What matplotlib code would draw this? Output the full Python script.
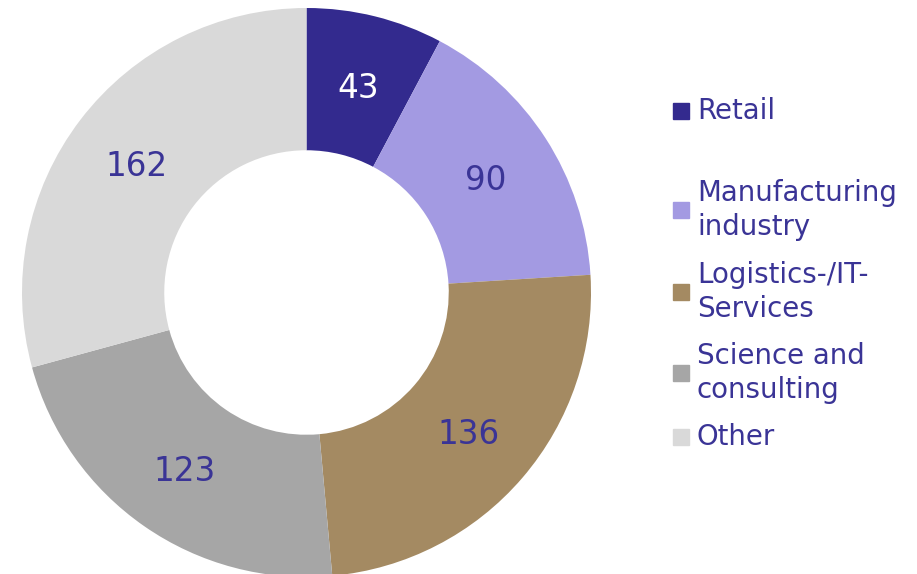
import matplotlib
matplotlib.use("Agg")
import matplotlib.pyplot as plt
from matplotlib.patches import Rectangle

plt.rcParams["font.family"] = ["DejaVu Sans"]

categories = ["Retail", "Manufacturing\nindustry", "Logistics-/IT-\nServices", "Science and\nconsulting", "Other"]
values = [43, 90, 136, 123, 162]
colors = ["#332A8E", "#A39AE2", "#A48A62", "#A6A6A6", "#D9D9D9"]
label_colors = ["white", "#3A3496", "#3A3496", "#3A3496", "#3A3496"]
text_color = "#3A3496"

W, H = 917, 574
fig = plt.figure(figsize=(W / 100, H / 100), dpi=100)
cx, cy, R = 306.5, 292.5, 284.5
ax = fig.add_axes([(cx - R) / W, (H - cy - R) / H, 2 * R / W, 2 * R / H])

wedges, texts = ax.pie(values, colors=colors, startangle=90, counterclock=False,
                       radius=1, wedgeprops=dict(width=0.5, linewidth=0),
                       labels=[str(v) for v in values], labeldistance=0.75)
ax.set_xlim(-1, 1)
ax.set_ylim(-1, 1)
ax.set_aspect("equal")
ax.axis("off")
for t, c in zip(texts, label_colors):
    t.set_color(c)
    t.set_fontsize(23.5)
    t.set_ha("center")
    t.set_va("center_baseline")

# legend
leg_y = [111, 210, 292, 373, 437]
for cat, col, y in zip(categories, colors, leg_y):
    fig.patches.append(Rectangle(((673) / W, (H - y - 8) / H), 16 / W, 16 / H,
                                 transform=fig.transFigure, color=col))
    fig.text(697 / W, (H - y) / H, cat, color=text_color, fontsize=19.9,
             va="center", ha="left", linespacing=1.25)

fig.savefig("out.png", dpi=100)
